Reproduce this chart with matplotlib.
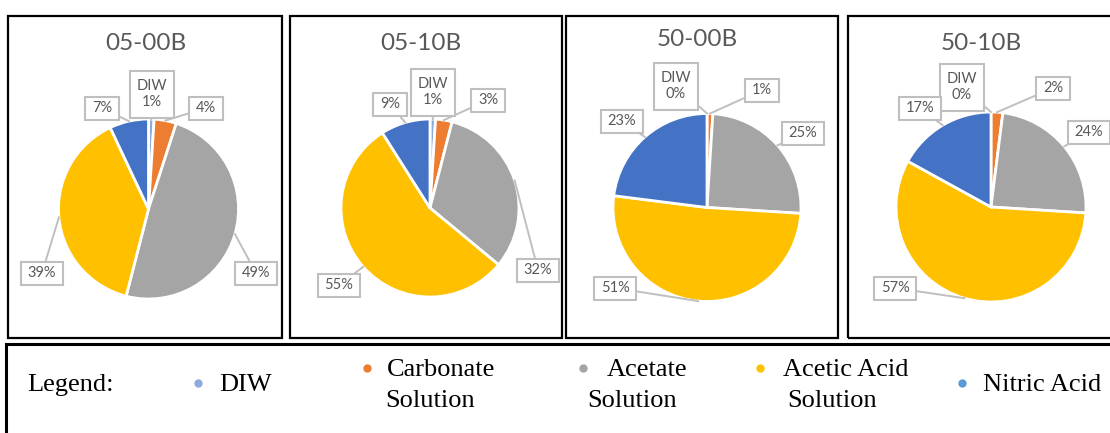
import numpy as np
import matplotlib
matplotlib.use('Agg')
import matplotlib.pyplot as plt
from matplotlib.patches import Rectangle

W, H = 1110, 433

# sample names and composition (% of each rinse component)
samples = ['05-00B', '05-10B', '50-00B', '50-10B']
components = ['DIW', 'Carbonate Solution', 'Acetate Solution',
              'Acetic Acid Solution', 'Nitric Acid']
share_0500 = [1, 4, 49, 39, 7]
share_0510 = [1, 3, 32, 55, 9]
share_5000 = [0, 1, 25, 51, 23]
share_5010 = [0, 2, 24, 57, 17]
shares = [share_0500, share_0510, share_5000, share_5010]

# legend text, split the way it is typeset
legend_lines = [['DIW'], ['Carbonate', 'Solution'], ['Acetate', 'Solution'],
                ['Acetic Acid', 'Solution'], ['Nitric Acid']]

pie_colors = ['#8faadc', '#ed7d31', '#a5a5a5', '#ffc000', '#4472c4']
dot_colors = ['#8faadc', '#ed7d31', '#a5a5a5', '#ffc000', '#5b9bd5']

# layout, in pixels from the top-left corner
frames = [(8, 16, 282, 338), (290, 16, 562, 338),
          (566, 16, 838, 338), (848, 16, 1116, 338)]
pie_xy = [(148.5, 209, 90), (430, 208, 89), (707, 207.5, 94), (991, 207, 95)]
title_xy = [(146, 43), (421, 43), (697, 40), (981, 43)]
label_xy = [
    [(152, 94), (206, 108), (256, 273), (42, 273), (102, 108)],
    [(433, 92), (488, 100), (538, 270), (339, 285), (390, 104)],
    [(676, 86), (762, 90), (803, 133), (615, 288), (622, 121)],
    [(962, 87), (1053, 88), (1089, 132), (895, 288), (920, 108)],
]
legend_dots = [(198, 383), (367, 368), (583, 368), (760, 368), (962, 383)]
legend_text_xy = [[(219, 391)], [(387, 376), (385, 407)],
                  [(607, 376), (587, 407)], [(783, 376), (787, 407)],
                  [(983, 391)]]

sans = ['Lato', 'DejaVu Sans']
serif = ['Liberation Serif', 'DejaVu Serif']
grey_txt = '#595959'
grey_line = '#bfbfbf'

fig = plt.figure(figsize=(W / 100, H / 100), dpi=100)
ax = fig.add_axes([0, 0, 1, 1])
renderer = fig.canvas.get_renderer()

for i, vals in enumerate(shares):
    x0, y0, x1, y1 = frames[i]
    ax.add_patch(Rectangle((x0, H - y1), x1 - x0, y1 - y0, fill=False,
                           ec='black', lw=1.6, zorder=1))

    cx, cy, r = pie_xy[i]
    ax.pie(vals, colors=pie_colors, startangle=90, counterclock=False,
           center=(cx, H - cy), radius=r, frame=True,
           wedgeprops=dict(edgecolor='white', linewidth=2))

    tx, ty = title_xy[i]
    ax.text(tx, H - ty, samples[i], ha='center', va='center', fontsize=17.5,
            color=grey_txt, family=sans)

    # data labels with leader lines
    start = 90.0
    for j, v in enumerate(vals):
        mid = np.deg2rad(start - v * 3.6 / 2)
        start -= v * 3.6
        px, py = cx + r * np.cos(mid), (H - cy) + r * np.sin(mid)
        lx, ly = label_xy[i][j]
        ly = H - ly
        txt = f'DIW\n{v}%' if j == 0 else f'{v}%'
        ax.plot([px, lx], [py, ly], color=grey_line, lw=1.4, zorder=3)
        t = ax.text(lx, ly, txt, ha='center', va='center', fontsize=10.5,
                    color=grey_txt, family=sans, linespacing=1.15, zorder=5)
        tw = t.get_window_extent(renderer).width
        bw = tw + 14
        bh = 47 if j == 0 else 23
        ax.add_patch(Rectangle((lx - bw / 2, ly - bh / 2), bw, bh, fc='white',
                               ec=grey_line, lw=1.5, zorder=4))

# legend strip along the bottom
ax.add_patch(Rectangle((6, H - 445), 1130, 101, fill=False, ec='black',
                       lw=2.2, zorder=1))
ax.text(27, H - 391, 'Legend:', fontsize=19, family=serif, va='baseline')
for k, lines in enumerate(legend_lines):
    dx, dy = legend_dots[k]
    ax.plot(dx, H - dy, 'o', ms=6, color=dot_colors[k], mec='none')
    for line, (lx, ly) in zip(lines, legend_text_xy[k]):
        ax.text(lx, H - ly, line, fontsize=19, family=serif, va='baseline')

ax.set_xlim(0, W)
ax.set_ylim(0, H)
ax.axis('off')

fig.savefig('out.png', dpi=100)
